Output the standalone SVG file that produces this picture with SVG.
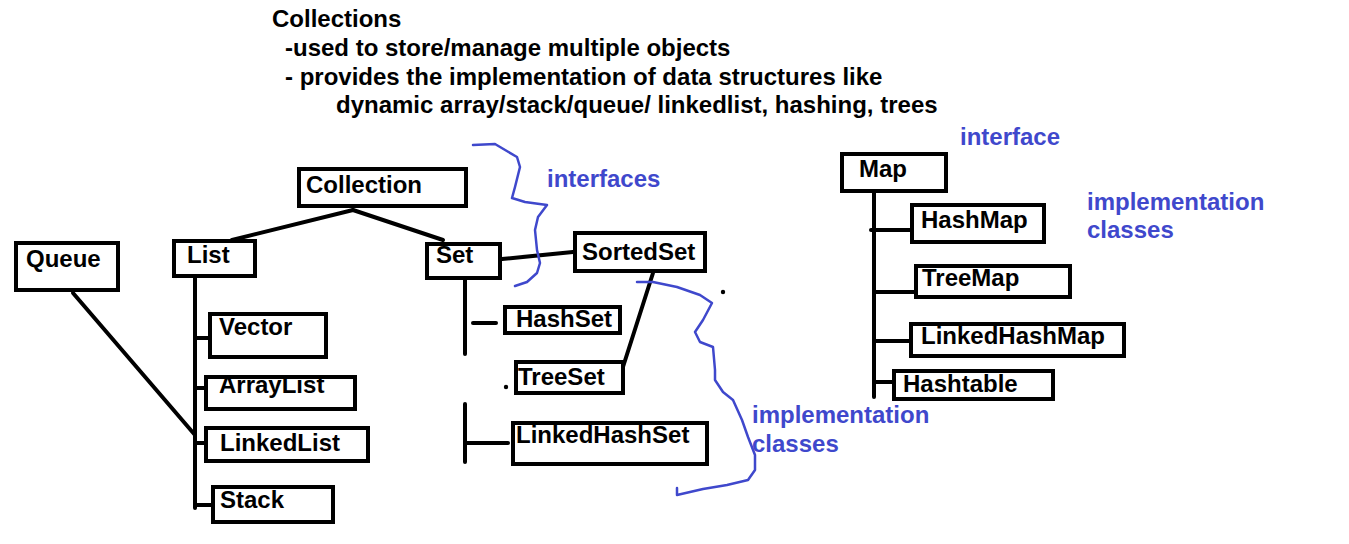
<svg xmlns="http://www.w3.org/2000/svg" width="1349" height="544" viewBox="0 0 1349 544">
<style>
.box{fill:#fff;stroke:#000;stroke-width:4}
.lbl{font-family:"Liberation Sans",Arial,sans-serif;font-weight:bold;font-size:24px;fill:#000}
.note{font-family:"Liberation Sans",Arial,sans-serif;font-weight:bold;font-size:24px;fill:#3f48cc}
.ln{stroke:#000;stroke-width:4;fill:none;stroke-linecap:round}
.brace{stroke:#3f48cc;stroke-width:2.5;fill:none;stroke-linejoin:round;stroke-linecap:round}
</style>
<rect width="1349" height="544" fill="#fff"/>
<g id="header">
<text class="lbl" x="272" y="27">Collections</text>
<text class="lbl" x="285" y="56">-used to store/manage multiple objects</text>
<text class="lbl" x="285" y="85">- provides the implementation of data structures like</text>
<text class="lbl" x="336" y="113">dynamic array/stack/queue/ linkedlist, hashing, trees</text>
</g>
<g id="connectors">
<line class="ln" x1="353" y1="210" x2="232" y2="240"/>
<line class="ln" x1="353" y1="210" x2="443" y2="240"/>
<line class="ln" x1="73" y1="293" x2="195" y2="435"/>
<line class="ln" x1="195" y1="278" x2="195" y2="508"/>
<line class="ln" x1="195" y1="338" x2="208" y2="338"/>
<line class="ln" x1="195" y1="388" x2="204" y2="388"/>
<line class="ln" x1="195" y1="443" x2="204" y2="443"/>
<line class="ln" x1="195" y1="505" x2="211" y2="505"/>
<line class="ln" x1="502" y1="259" x2="573" y2="252"/>
<line class="ln" x1="465" y1="280" x2="465" y2="354"/>
<line class="ln" x1="473" y1="323" x2="496" y2="323"/>
<line class="ln" x1="465" y1="404" x2="465" y2="462"/>
<line class="ln" x1="465" y1="443" x2="508" y2="443"/>
<line class="ln" x1="653" y1="273" x2="622" y2="370"/>
<line class="ln" x1="874" y1="193" x2="874" y2="397"/>
<line class="ln" x1="871" y1="230" x2="910" y2="230"/>
<line class="ln" x1="874" y1="292" x2="914" y2="292"/>
<line class="ln" x1="874" y1="341" x2="909" y2="341"/>
<line class="ln" x1="874" y1="382" x2="892" y2="382"/>
<circle cx="506" cy="387" r="2.2" fill="#000"/>
<circle cx="723" cy="292" r="2.2" fill="#000"/>
</g>
<g id="Collection"><rect class="box" x="299" y="169" width="167" height="37"/><text class="lbl" x="306" y="193">Collection</text></g>
<g id="Queue"><rect class="box" x="16" y="243" width="102" height="47"/><text class="lbl" x="26" y="267">Queue</text></g>
<g id="List"><rect class="box" x="174" y="241" width="81" height="35"/><text class="lbl" x="187" y="263">List</text></g>
<g id="Vector"><rect class="box" x="210" y="314" width="116" height="43"/><text class="lbl" x="219" y="335">Vector</text></g>
<g id="ArrayList"><rect class="box" x="206" y="377" width="149" height="32"/><text class="lbl" x="219" y="393">ArrayList</text></g>
<g id="LinkedList"><rect class="box" x="206" y="428" width="162" height="33"/><text class="lbl" x="220" y="451">LinkedList</text></g>
<g id="Stack"><rect class="box" x="213" y="487" width="120" height="35"/><text class="lbl" x="220" y="508">Stack</text></g>
<g id="Set"><rect class="box" x="427" y="244" width="73" height="34"/><text class="lbl" x="436" y="263">Set</text></g>
<g id="SortedSet"><rect class="box" x="575" y="233" width="130" height="38"/><text class="lbl" x="582" y="260">SortedSet</text></g>
<g id="HashSet"><rect class="box" x="505" y="307" width="115" height="26"/><text class="lbl" x="516" y="327">HashSet</text></g>
<g id="TreeSet"><rect class="box" x="516" y="362" width="107" height="31"/><text class="lbl" x="518" y="385">TreeSet</text></g>
<g id="LinkedHashSet"><rect class="box" x="513" y="423" width="194" height="41"/><text class="lbl" x="516" y="443">LinkedHashSet</text></g>
<g id="Map"><rect class="box" x="842" y="154" width="104" height="37"/><text class="lbl" x="859" y="177">Map</text></g>
<g id="HashMap"><rect class="box" x="912" y="205" width="132" height="37"/><text class="lbl" x="921" y="228">HashMap</text></g>
<g id="TreeMap"><rect class="box" x="916" y="266" width="154" height="31"/><text class="lbl" x="922" y="286">TreeMap</text></g>
<g id="LinkedHashMap"><rect class="box" x="911" y="324" width="213" height="32"/><text class="lbl" x="921" y="344">LinkedHashMap</text></g>
<g id="Hashtable"><rect class="box" x="894" y="371" width="159" height="28"/><text class="lbl" x="903" y="392">Hashtable</text></g>
<g id="annotations">
<path class="brace" d="M473,145 L495,144 L517,157 L520,167 L515,187 L512,198 L525,202 L547,205 L538,217 L535,230 L537,250 L540,263 L537,273 L527,282 L515,286"/>
<path class="brace" d="M637,282 L653,282 L677,287 L700,295 L712,303 L703,320 L695,332 L700,342 L713,347 L715,370 L715,380 L723,392 L733,400 L742,420 L748,437 L755,455 L755,470 L748,480 L727,485 L703,489 L677,495 L677,488"/>
<text class="note" x="547" y="187">interfaces</text>
<text class="note" x="752" y="423">implementation</text>
<text class="note" x="752" y="452">classes</text>
<text class="note" x="960" y="145">interface</text>
<text class="note" x="1087" y="210">implementation</text>
<text class="note" x="1087" y="238">classes</text>
</g>
</svg>
